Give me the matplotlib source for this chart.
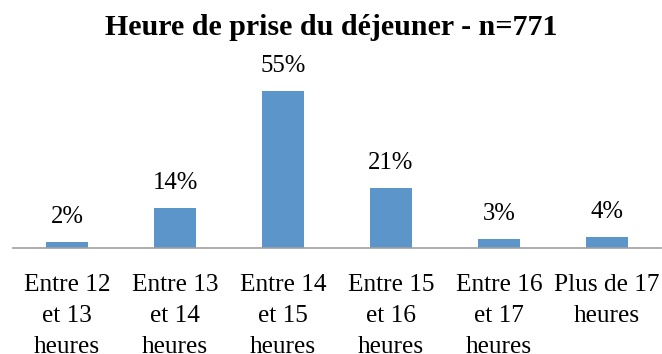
import matplotlib.pyplot as plt

categories = ["Entre 12\net 13\nheures", "Entre 13\net 14\nheures", "Entre 14\net 15\nheures",
              "Entre 15\net 16\nheures", "Entre 16\net 17\nheures", "Plus de 17\nheures"]
values = [2, 14, 55, 21, 3, 4]
labels = ["2%", "14%", "55%", "21%", "3%", "4%"]

plt.rcParams['font.family'] = ['Liberation Serif', 'DejaVu Serif']

fig = plt.figure(figsize=(6.62, 3.54), dpi=100)
ax = fig.add_axes([13 / 662, 1 - 248 / 354, 648 / 662, 171 / 354])

x = range(len(values))
bars = ax.bar(x, values, width=0.39, color="#5B95C9")

for xi, v, lab in zip(x, values, labels):
    ax.annotate(lab, (xi, v), xytext=(0, 18), textcoords="offset points",
                ha="center", va="center", fontsize=17.8)

ax.set_xlim(-0.5, len(values) - 0.5)
ax.set_ylim(0, 60)
ax.set_xticks(list(x))
ax.set_xticklabels(categories, fontsize=18.3, linespacing=1.52)
ax.tick_params(axis="x", length=0, pad=19)
ax.set_yticks([])
for s in ["top", "right", "left"]:
    ax.spines[s].set_visible(False)
ax.spines["bottom"].set_color("#A0A0A0")
ax.spines["bottom"].set_linewidth(1.2)

fig.suptitle("Heure de prise du déjeuner - n=771", fontsize=21.6, fontweight="bold",
             x=0.5, y=0.922, va="center")

fig.savefig("out.png", dpi=100)
